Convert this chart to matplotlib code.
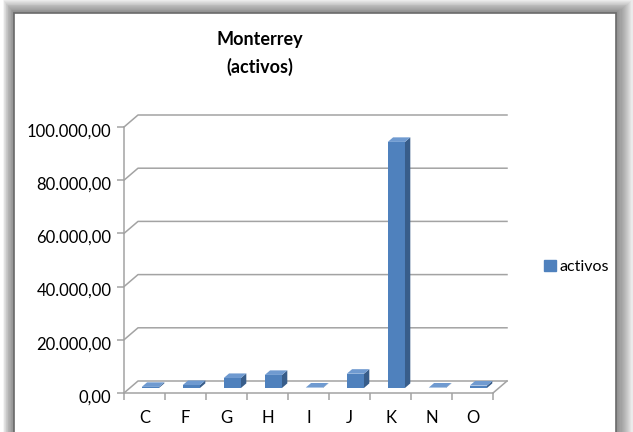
import numpy as np
import matplotlib
matplotlib.use("Agg")
import matplotlib.pyplot as plt
import matplotlib.transforms as mtransforms
from matplotlib.patches import Rectangle, Polygon, Patch

categories=["C","F","G","H","I","J","K","N","O"]
activos=[400,1100,3750,4900,150,5350,92500,150,900]
yticks=[0,20000,40000,60000,80000,100000]
ytick_labels=["0,00","20.000,00","40.000,00","60.000,00","80.000,00","100.000,00"]

plt.rcParams['font.family']=['Lato','DejaVu Sans']

W,H=633,432
fig=plt.figure(figsize=(W/100,H/100),dpi=100)
fig.patch.set_facecolor("white")

def fx(px):
    return px/W
def fy(py):
    return 1-py/H

# shadow, heavier on top and right side
n=16
for i in range(n,0,-1):
    x0=14-i*0.7
    x1=616+i*1.1
    y0=13-i*0.85
    fig.patches.append(Rectangle((fx(x0),fy(445)),fx(x1-x0),(445-y0)/H,
                                 transform=fig.transFigure,facecolor="#404040",
                                 edgecolor="none",alpha=0.05,zorder=-20))
fig.patches.append(Rectangle((fx(14),fy(445)),fx(602),(445-13)/H,transform=fig.transFigure,
                             facecolor="white",edgecolor="#6a6a6a",lw=1.2,zorder=-10))

grid_c="#a3a3a3"
front_c="#4f81bd"
side_c="#385d8a"
top_c="#6f9ad0"

ax=fig.add_axes([fx(124),fy(393),fx(369),266/H])
ax.set_facecolor("none")
ax.set_xlim(-0.5,8.5)
ax.set_ylim(0,100000)

# depth of the floor in data units (about 14 px right, 12 px up)
DX=14/(369/9)
DY=12/266*100000

# back wall grid and floor
for v in yticks:
    ax.plot([-0.5,-0.5+DX,8.5+DX],[v,v+DY,v+DY],color=grid_c,lw=1.1,clip_on=False,zorder=1)
ax.plot([8.5,8.5+DX],[0,DY],color=grid_c,lw=1.1,clip_on=False,zorder=1)

# bars with simple 3d faces
xs=np.arange(len(categories))
f1,f2=0.42,0.8
bw=0.42
b0=f1*DY
ddx=(f2-f1)*DX
ddy=(f2-f1)*DY
ax.bar(xs+f1*DX,activos,width=bw,bottom=b0,color=front_c,zorder=3,clip_on=False)
for x,v in zip(xs,activos):
    xl=x+f1*DX-bw/2
    xr=x+f1*DX+bw/2
    ax.add_patch(Polygon([(xr,b0),(xr+ddx,b0+ddy),(xr+ddx,b0+ddy+v),(xr,b0+v)],
                         closed=True,facecolor=side_c,edgecolor="none",zorder=3,clip_on=False))
    ax.add_patch(Polygon([(xl,b0+v),(xr,b0+v),(xr+ddx,b0+v+ddy),(xl+ddx,b0+v+ddy)],
                         closed=True,facecolor=top_c,edgecolor="none",zorder=3,clip_on=False))

for s in ["top","right"]:
    ax.spines[s].set_visible(False)
for s in ["left","bottom"]:
    ax.spines[s].set_color(grid_c)
    ax.spines[s].set_linewidth(1.1)

ax.set_yticks(yticks)
ax.set_yticklabels(ytick_labels)
ax.tick_params(axis="y",length=5,width=1.1,color=grid_c,pad=4,labelsize=12,labelcolor="black")
shift=mtransforms.ScaledTranslation(0,-3/100,fig.dpi_scale_trans)
for lab in ax.get_yticklabels():
    lab.set_transform(lab.get_transform()+shift)
ax.set_xticks(xs)
ax.set_xticklabels(categories)
ax.set_xticks(np.arange(-0.5,9,1),minor=True)
ax.tick_params(axis="x",which="major",length=0,pad=12,labelsize=12,labelcolor="black")
ax.tick_params(axis="x",which="minor",length=5,width=1.1,color=grid_c)

fig.text(fx(260),fy(40),"Monterrey",ha="center",va="center",fontsize=13,fontweight="bold")
fig.text(fx(260),fy(67),"(activos)",ha="center",va="center",fontsize=13,fontweight="bold")

fig.legend(handles=[Patch(color=front_c)],labels=["activos"],loc="center left",
           bbox_to_anchor=(fx(544),fy(267)),frameon=False,handlelength=0.72,
           handleheight=0.72,handletextpad=0.25,fontsize=11.5,borderpad=0,borderaxespad=0)

fig.savefig("out.png",dpi=100)
